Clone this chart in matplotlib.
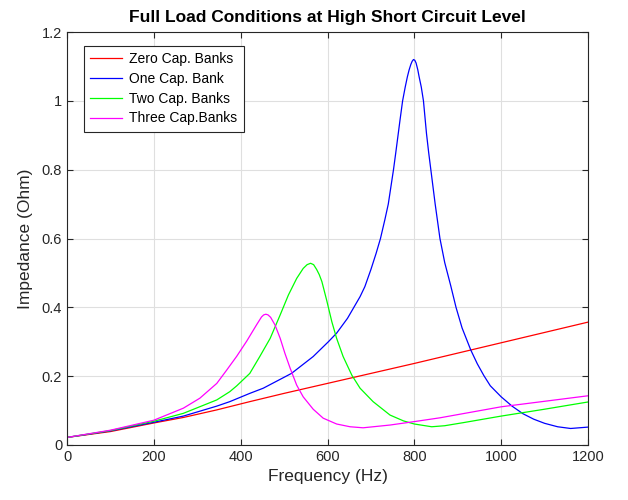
import numpy as np
import matplotlib
matplotlib.use('Agg')
import matplotlib.pyplot as plt
from matplotlib.ticker import FuncFormatter

# values (Hz, Ohm)
f_zero = [0, 100, 200, 268, 345, 421, 500, 600, 700, 800, 900, 1000, 1100, 1200]
z_zero = [0.022, 0.039, 0.064, 0.080, 0.102, 0.126, 0.150, 0.179, 0.208, 0.237, 0.267, 0.297,
          0.327, 0.357]

f_one = [0, 100, 200, 268, 300, 345, 375, 421, 452, 517, 567, 602, 621, 646, 675, 686, 700, 712,
         722, 732, 740, 746, 752, 757, 763, 767, 773, 779, 784, 788, 792, 795, 798, 801, 804, 808,
         811, 816, 821, 828, 833, 838, 848, 859, 870, 884, 896, 910, 930, 945, 960, 975, 1000, 1025,
         1050, 1075, 1100, 1130, 1160, 1200]
z_one = [0.022, 0.041, 0.066, 0.084, 0.096, 0.113, 0.126, 0.150, 0.165, 0.208, 0.257, 0.300, 0.325,
         0.368, 0.431, 0.460, 0.510, 0.557, 0.600, 0.654, 0.700, 0.750, 0.800, 0.847, 0.905, 0.944,
         1.000, 1.040, 1.070, 1.090, 1.106, 1.115, 1.120, 1.118, 1.110, 1.090, 1.070, 1.040, 1.000,
         0.905, 0.850, 0.800, 0.700, 0.600, 0.530, 0.462, 0.400, 0.340, 0.276, 0.236, 0.202, 0.172,
         0.140, 0.113, 0.091, 0.075, 0.063, 0.053, 0.048, 0.052]

f_two = [0, 100, 200, 268, 345, 375, 391, 421, 444, 468, 491, 510, 529, 544, 553, 561, 568, 575,
         581, 587, 598, 610, 621, 636, 656, 675, 705, 744, 775, 800, 840, 870, 913, 1000, 1100, 1200]
z_two = [0.022, 0.042, 0.069, 0.092, 0.131, 0.155, 0.172, 0.208, 0.257, 0.310, 0.378, 0.436, 0.484,
         0.513, 0.524, 0.528, 0.524, 0.510, 0.495, 0.475, 0.421, 0.358, 0.310, 0.257, 0.203, 0.165,
         0.126, 0.087, 0.070, 0.061, 0.053, 0.056, 0.065, 0.084, 0.104, 0.125]

f_three = [0, 100, 200, 268, 306, 345, 368, 391, 414, 437, 448, 453, 458, 463, 469, 479, 491, 502,
           514, 529, 544, 567, 590, 621, 652, 682, 744, 800, 859, 1000, 1100, 1200]
z_three = [0.022, 0.043, 0.072, 0.107, 0.136, 0.179, 0.218, 0.258, 0.302, 0.350, 0.372, 0.378, 0.380,
           0.378, 0.371, 0.349, 0.310, 0.266, 0.223, 0.174, 0.140, 0.104, 0.078, 0.061, 0.053, 0.050,
           0.058, 0.068, 0.079, 0.111, 0.127, 0.143]

labels = ['Zero Cap. Banks', 'One Cap. Bank', 'Two Cap. Banks', 'Three Cap.Banks']

plt.rcParams['font.family'] = ['Liberation Sans', 'DejaVu Sans']

fig = plt.figure(figsize=(6.28, 5.0), dpi=100)
ax = fig.add_axes([0.1067, 0.11, 0.8296, 0.826])

ax.plot(f_zero, z_zero, color='#ff0000', lw=0.9, label=labels[0])
ax.plot(f_one, z_one, color='#0000ff', lw=0.9, label=labels[1])
ax.plot(f_two, z_two, color='#00ff00', lw=0.9, label=labels[2])
ax.plot(f_three, z_three, color='#ff00ff', lw=0.9, label=labels[3])

ax.set_xlim(0, 1200)
ax.set_ylim(0, 1.2)
ax.set_xticks(np.arange(0, 1201, 200))
ax.set_yticks(np.arange(0, 1.21, 0.2))
ax.yaxis.set_major_formatter(FuncFormatter(lambda v, p: '%g' % round(v, 2)))
ax.grid(True, color='#dfdfdf', lw=0.8)
ax.set_axisbelow(True)
ax.tick_params(direction='in', top=True, right=True, labelsize=10.5, colors='#262626', length=4)
for s in ax.spines.values():
    s.set_color('#262626')
    s.set_linewidth(0.8)

ax.set_xlabel('Frequency (Hz)', fontsize=12.5, color='#262626')
ax.set_ylabel('Impedance (Ohm)', fontsize=12.5, color='#262626', labelpad=6)
ax.set_title('Full Load Conditions at High Short Circuit Level', fontsize=12.5, fontweight='bold', pad=7)

leg = ax.legend(loc='upper left', bbox_to_anchor=(0.033, 0.967), borderaxespad=0, fontsize=10,
                fancybox=False, edgecolor='#262626', framealpha=1, handlelength=2.3,
                handletextpad=0.5, borderpad=0.45, labelspacing=0.42)
leg.get_frame().set_linewidth(0.8)

fig.savefig('out.png', dpi=100)
